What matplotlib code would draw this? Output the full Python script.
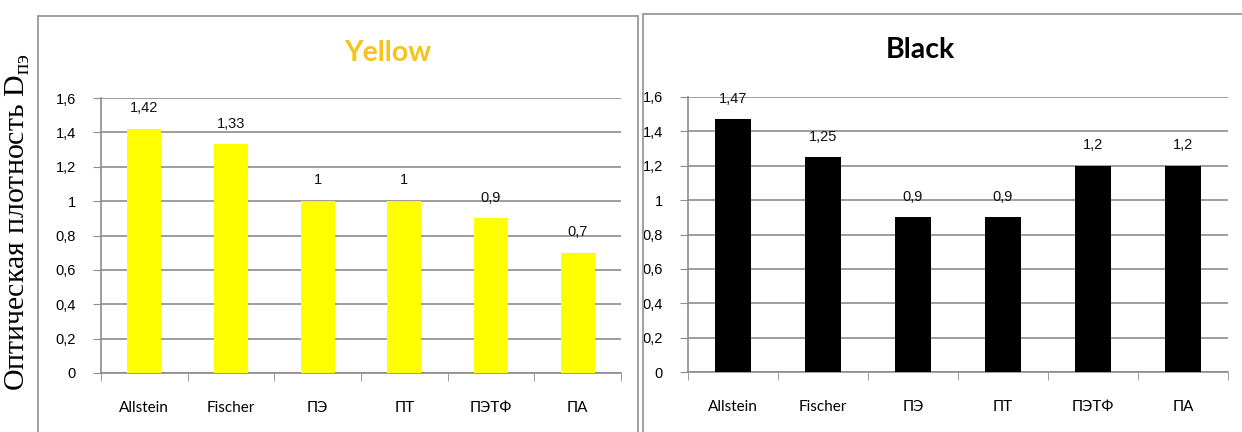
import matplotlib.pyplot as plt
from matplotlib.patches import Rectangle
from matplotlib.ticker import FuncFormatter, FixedLocator

# Данные: оптическая плотность по материалам
materials = ['Allstein', 'Fischer', 'ПЭ', 'ПТ', 'ПЭТФ', 'ПА']
yellow_vals = [1.42, 1.33, 1.0, 1.0, 0.9, 0.7]
black_vals = [1.47, 1.25, 0.9, 0.9, 1.2, 1.2]
y_ticks = [0, 0.2, 0.4, 0.6, 0.8, 1.0, 1.2, 1.4, 1.6]

GRID = '#8c8c8c'
TICK_FONT = 'Lato'
LABEL_FONT = 'Liberation Sans'


def comma(v):
    s = f'{v:g}'
    return s.replace('.', ',')


def draw_panel(ax, values, color, title, title_color, title_x, title_y):
    x = list(range(len(materials)))
    ax.bar(x, values, width=0.39, color=color, zorder=3)
    ax.set_xlim(-0.5, len(materials) - 0.5)
    ax.set_ylim(0, 1.6)

    ax.yaxis.set_major_locator(FixedLocator(y_ticks))
    ax.yaxis.set_major_formatter(FuncFormatter(lambda v, p: comma(round(v, 1))))
    ax.grid(axis='y', color=GRID, linewidth=1.2, zorder=0)
    ax.set_axisbelow(True)

    # подписи категорий по центру, засечки на границах
    ax.set_xticks(x)
    ax.set_xticklabels(materials, fontfamily=TICK_FONT, fontsize=11)
    ax.set_xticks([i - 0.5 for i in range(len(materials) + 1)], minor=True)
    ax.tick_params(axis='x', which='major', length=0, pad=20)
    ax.tick_params(axis='x', which='minor', length=6, color=GRID, direction='out')
    ax.tick_params(axis='y', length=6, color=GRID, pad=12)
    for lab in ax.get_yticklabels():
        lab.set_fontfamily(LABEL_FONT)
        lab.set_fontsize(10.5)

    for s in ['top', 'right']:
        ax.spines[s].set_visible(False)
    for s in ['left', 'bottom']:
        ax.spines[s].set_color(GRID)
        ax.spines[s].set_linewidth(1.2)

    for xi, v in zip(x, values):
        ax.text(xi, v + 0.12, comma(v), ha='center', va='center',
                fontfamily=LABEL_FONT, fontsize=10.5, color='#111111', zorder=4)

    fig.text(title_x / 1242, 1 - title_y / 432, title,
             ha='center', va='center', fontfamily='Lato', fontweight='bold',
             fontsize=20.5, color=title_color)


fig = plt.figure(figsize=(12.42, 4.32), dpi=100)

# рамки вокруг диаграмм
fig.patches.append(Rectangle((38 / 1242, -0.05), 600 / 1242, 1.05 - 16 / 432,
                             transform=fig.transFigure, fill=False,
                             edgecolor='#a0a0a0', linewidth=1.4))
fig.patches.append(Rectangle((643 / 1242, -0.05), 0.5, 1.05 - 14 / 432,
                             transform=fig.transFigure, fill=False,
                             edgecolor='#a0a0a0', linewidth=1.4))

ax1 = fig.add_axes([101 / 1242, 1 - 373 / 432, 520 / 1242, 275 / 432])
ax2 = fig.add_axes([688 / 1242, 1 - 372 / 432, 540 / 1242, 275 / 432])

draw_panel(ax1, yellow_vals, '#ffff00', 'Yellow', '#f7c21a', 388, 53)
draw_panel(ax2, black_vals, '#000000', 'Black', '#000000', 920, 50)

fig.text(18 / 1242, 1 - 222 / 432, 'Оптическая плотность D$_{\\mathregular{пэ}}$',
         rotation=90, ha='center', va='center', fontfamily='Liberation Serif',
         fontsize=21.5)

fig.savefig('out.png', dpi=100)
